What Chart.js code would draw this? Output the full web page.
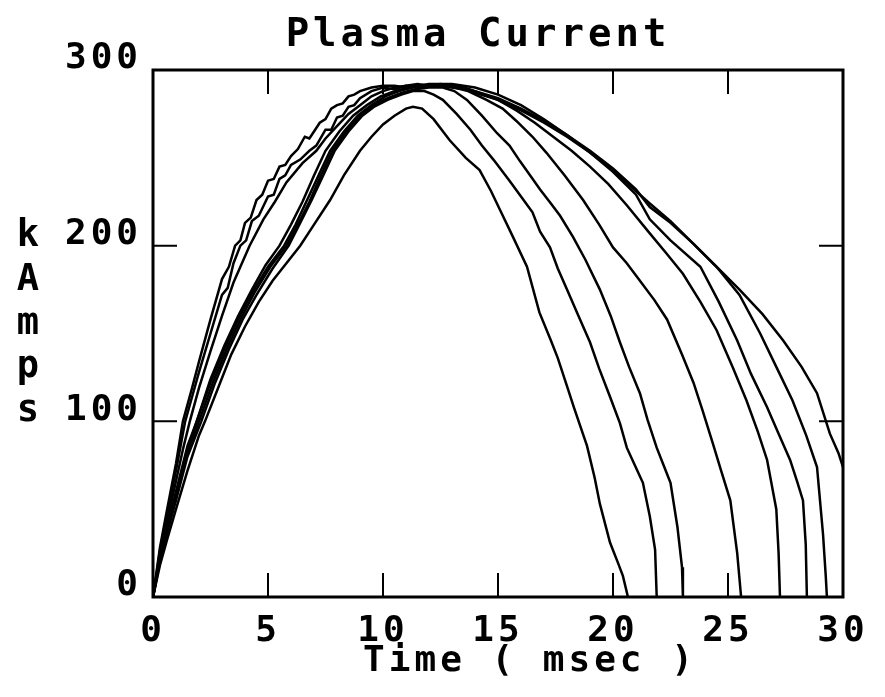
<!DOCTYPE html>
<html>
<head>
<meta charset="utf-8">
<script src="https://cdn.jsdelivr.net/npm/chart.js@4.4.1/dist/chart.umd.min.js"></script>
<style>
  body { margin: 0; background: #fff; }
  canvas { display: block; }
</style>
</head>
<body>
<canvas id="plasma" width="885" height="697"></canvas>
<script>
// Plasma current traces, time in msec, current in kA
const chartTitle = 'Plasma Current';
const xTitle = 'Time ( msec )';
const yTitle = 'kAmps';
const xTicks = [5, 10, 15, 20, 25];
const yTicks = [100, 200];

const tA = [0, 0.3, 0.6, 1.0, 1.5, 2.0, 2.26, 2.8, 3.4, 4.0, 4.6, 5.2, 5.8, 6.4, 7.0, 7.7, 8.3, 9.0, 9.5, 10.0, 10.5, 11.0, 11.3, 11.7, 12.2, 12.9, 13.6, 14.2, 14.7, 15.1, 15.65, 16.26, 16.8, 17.3, 17.6, 18.0, 18.3, 18.87, 19.2, 19.43, 19.87, 20.2, 20.43, 20.65];
const iA = [0, 18, 32, 50, 72, 92, 100, 118, 138, 154, 168, 180, 190, 200, 212, 226, 240, 254, 262, 269, 274, 278, 279, 278, 272, 260, 250, 243, 231, 220, 205, 188, 162, 146, 136, 120, 108, 86, 68, 53, 31, 20, 12, 0];

const tB = [0, 0.3, 0.6, 1.0, 1.5, 2.1, 2.7, 3.3, 3.9, 4.5, 5.2, 5.9, 6.4, 6.9, 7.4, 7.9, 8.5, 9.1, 9.6, 10.2, 10.8, 11.3, 11.8, 12.2, 12.6, 13.2, 13.8, 14.3, 14.8, 15.5, 16.0, 16.5, 16.83, 17.26, 17.6, 18.0, 18.5, 19.0, 19.4, 19.87, 20.3, 20.6, 20.95, 21.3, 21.6, 21.83, 21.9];
const iB = [0, 20, 36, 55, 80, 100, 122, 141, 158, 172, 187, 200, 213, 226, 240, 254, 265, 274, 279, 283, 286, 288, 288, 286, 283, 275, 266, 257, 249, 237, 228, 219, 208, 199, 187, 175, 160, 145, 130, 114, 99, 85, 75, 65, 46, 27, 0];

const tC = [0, 0.3, 0.6, 1.0, 1.5, 2.0, 2.6, 3.2, 3.8, 4.4, 5.1, 5.8, 6.3, 6.8, 7.3, 7.8, 8.4, 9.0, 9.6, 10.2, 10.8, 11.4, 12.0, 12.6, 13.1, 13.65, 14.3, 14.96, 15.5, 15.96, 16.4, 16.83, 17.3, 17.7, 18.26, 18.8, 19.43, 19.9, 20.3, 20.7, 21.17, 21.5, 21.9, 22.2, 22.5, 22.8, 23.0, 23.04];
const iC = [0, 21, 37, 57, 82, 100, 122, 141, 158, 173, 188, 200, 212, 225, 240, 254, 265, 274, 280, 284, 287, 289, 290, 290, 288, 283, 274, 264, 257, 248, 240, 232, 224, 217, 205, 192, 175, 160, 145, 131, 116, 101, 85, 75, 65, 40, 17, 0];

const tD = [0, 0.3, 0.6, 1.0, 1.5, 1.9, 2.5, 3.1, 3.7, 4.3, 5.0, 5.7, 6.2, 6.7, 7.2, 7.7, 8.3, 8.9, 9.5, 10.1, 10.7, 11.3, 11.9, 12.5, 13.1, 13.7, 14.5, 15.2, 15.8, 16.5, 17.1, 17.9, 18.7, 19.4, 20.0, 20.6, 21.17, 21.8, 22.35, 23.0, 23.5, 23.9, 24.35, 24.7, 25.1, 25.4, 25.57];
const iD = [0, 21, 38, 58, 84, 100, 122, 141, 158, 173, 188, 200, 212, 226, 240, 254, 265, 274, 280, 285, 288, 290, 291, 291, 290, 288, 283, 278, 271, 262, 253, 240, 226, 212, 199, 190, 180, 169, 158, 138, 122, 106, 87, 72, 55, 25, 0];

const tE = [0, 0.3, 0.6, 1.0, 1.5, 1.9, 2.5, 3.1, 3.7, 4.3, 4.9, 5.5, 6.0, 6.5, 7.0, 7.5, 8.1, 8.7, 9.3, 9.9, 10.5, 11.1, 11.7, 12.3, 12.9, 13.5, 14.2, 15.0, 15.8, 16.6, 17.4, 18.2, 19.0, 19.8, 20.6, 21.6, 22.3, 23.04, 23.8, 24.5, 25.2, 25.8, 26.3, 26.7, 27.1, 27.2, 27.26];
const iE = [0, 22, 39, 60, 86, 100, 124, 143, 160, 175, 189, 200, 212, 225, 240, 254, 265, 274, 280, 285, 288, 290, 291, 291, 291, 290, 287, 283, 277, 270, 262, 254, 245, 235, 223, 207, 196, 184, 168, 152, 131, 112, 94, 78, 50, 25, 0];

const tF = [0, 0.3, 0.6, 1.0, 1.3, 1.6, 2.0, 2.5, 3.0, 3.5, 4.2, 4.8, 5.3, 5.8, 6.5, 7.1, 7.5, 8.0, 8.5, 9.0, 9.5, 10, 10.5, 11, 11.5, 12, 12.5, 13, 13.5, 14, 15, 16, 17, 18, 19, 20, 21, 21.6, 22.5, 23.8, 24.6, 25.4, 26.0, 26.7, 27.2, 27.7, 28.0, 28.26, 28.38, 28.43];
const iF = [0, 23, 42, 66, 84, 100, 119, 140, 160, 179, 200, 215, 225, 236, 247, 254, 261, 268, 275, 280, 285, 288, 290, 291, 290, 291, 291, 290, 289, 287, 283, 277, 270, 262, 253, 242, 229, 215, 203, 188, 168, 146, 127, 108, 93, 78, 66, 55, 30, 0];

const tG = [0, 0.3, 0.6, 1.0, 1.4, 1.7, 2.0, 2.5, 3.0, 3.25, 3.5, 3.8, 4.05, 4.3, 4.6, 5.0, 5.25, 5.5, 5.75, 6.0, 6.4, 6.8, 7.1, 7.5, 7.75, 8.0, 8.25, 8.5, 8.75, 9.0, 9.5, 10, 10.5, 11, 11.5, 12, 12.5, 13, 13.5, 14, 15, 16, 17, 18, 19, 20, 21, 21.6, 22.5, 23.5, 24.5, 25.5, 26.4, 27.1, 27.8, 28.4, 28.87, 29.13, 29.25, 29.3];
const iG = [0, 26, 46, 72, 100, 114, 128, 150, 172, 176, 190, 200, 203, 214, 217, 228, 229, 238, 240, 246, 249, 254, 257, 266, 266, 273, 274, 279, 280, 284, 288, 290, 289, 291, 292, 291, 292, 291, 290, 288, 284, 278, 271, 263, 254, 244, 232, 222, 213, 201, 188, 172, 150, 131, 112, 92, 74, 36, 12, 0];

const tH = [0, 0.3, 0.6, 1.0, 1.3, 1.7, 2.0, 2.5, 3.0, 3.3, 3.57, 3.8, 4.0, 4.25, 4.5, 4.75, 5.0, 5.25, 5.5, 5.75, 6.0, 6.3, 6.6, 6.8, 7.0, 7.25, 7.5, 7.75, 8.0, 8.25, 8.5, 8.75, 9.0, 9.5, 10, 10.5, 11, 11.5, 12, 12.5, 13, 13.5, 14, 15, 16, 17, 18, 19, 20, 21, 21.6, 22.5, 23.5, 24.5, 25.5, 26.5, 27.4, 28.2, 28.87, 29.43, 29.8, 30];
const iH = [0, 28, 49, 76, 100, 119, 134, 158, 181, 188, 200, 203, 213, 216, 226, 229, 237, 238, 245, 246, 251, 255, 262, 261, 265, 270, 272, 278, 280, 281, 285, 286, 288, 290, 291, 291, 290, 291, 292, 292, 292, 291, 290, 286, 280, 272, 263, 253, 243, 231, 224, 214, 201, 188, 175, 161, 146, 131, 116, 93, 82, 74];

const shots = [[tA, iA], [tB, iB], [tC, iC], [tD, iD], [tE, iE], [tF, iF], [tG, iG], [tH, iH]];

const font = 'DejaVu Sans Mono';

const frame = {
    id: 'frame',
    beforeDraw(chart) {
        chart.ctx.letterSpacing = '4px';
    },
    afterDraw(chart) {
        const { ctx, chartArea: a, scales: { x, y } } = chart;
        ctx.save();
        ctx.strokeStyle = '#000';
        ctx.lineWidth = 3;
        ctx.strokeRect(a.left, a.top, a.right - a.left, a.bottom - a.top);

        // inward tick marks on all four sides
        ctx.lineWidth = 2;
        ctx.beginPath();
        xTicks.forEach(v => {
            const px = x.getPixelForValue(v);
            ctx.moveTo(px, a.bottom); ctx.lineTo(px, a.bottom - 24);
            ctx.moveTo(px, a.top); ctx.lineTo(px, a.top + 24);
        });
        yTicks.forEach(v => {
            const py = y.getPixelForValue(v);
            ctx.moveTo(a.left, py); ctx.lineTo(a.left + 24, py);
            ctx.moveTo(a.right, py); ctx.lineTo(a.right - 24, py);
        });
        ctx.stroke();

        ctx.fillStyle = '#000';
        ctx.textAlign = 'center';
        ctx.textBaseline = 'alphabetic';

        // title
        ctx.font = 'bold 39px "' + font + '"';
        ctx.letterSpacing = '4px';
        ctx.fillText(chartTitle, 478, 46);

        // stacked y title, one letter per line
        ctx.font = 'bold 37px "' + font + '"';
        ctx.letterSpacing = '0px';
        const y0 = y.getPixelForValue(200);
        const step = (y.getPixelForValue(100) - y0) / 4;
        yTitle.split('').forEach((ch, k) => ctx.fillText(ch, 28, y0 + k * step));

        // x title
        ctx.font = 'bold 36px "' + font + '"';
        ctx.letterSpacing = '4px';
        ctx.fillText(xTitle, (a.left + a.right) / 2 + 32, 671);
        ctx.restore();
    }
};

new Chart(document.getElementById('plasma'), {
    type: 'line',
    data: {
        datasets: shots.map(([t, amps]) => ({
            data: t.map((v, k) => ({ x: v, y: amps[k] })),
            borderColor: '#000',
            borderWidth: 2.5,
            pointRadius: 0,
            tension: 0,
            fill: false
        }))
    },
    options: {
        responsive: false,
        animation: false,
        devicePixelRatio: 1,
        layout: { padding: { left: 0, right: 42, top: 70, bottom: 0 } },
        plugins: {
            legend: { display: false },
            tooltip: { enabled: false },
            title: { display: false }
        },
        scales: {
            x: {
                type: 'linear',
                min: 0,
                max: 30,
                grid: { display: false, drawTicks: false },
                border: { display: false },
                ticks: {
                    stepSize: 5,
                    color: '#000',
                    maxRotation: 0,
                    padding: 13,
                    font: { family: font, size: 36, weight: 'bold' }
                },
                afterFit: s => { s.height = 100; }
            },
            y: {
                min: 0,
                max: 300,
                grid: { display: false, drawTicks: false },
                border: { display: false },
                ticks: {
                    stepSize: 100,
                    color: '#000',
                    padding: 11,
                    labelOffset: -11,
                    font: { family: font, size: 36, weight: 'bold' }
                },
                afterFit: s => { s.width = 153; }
            }
        }
    },
    plugins: [frame]
});
</script>
</body>
</html>
